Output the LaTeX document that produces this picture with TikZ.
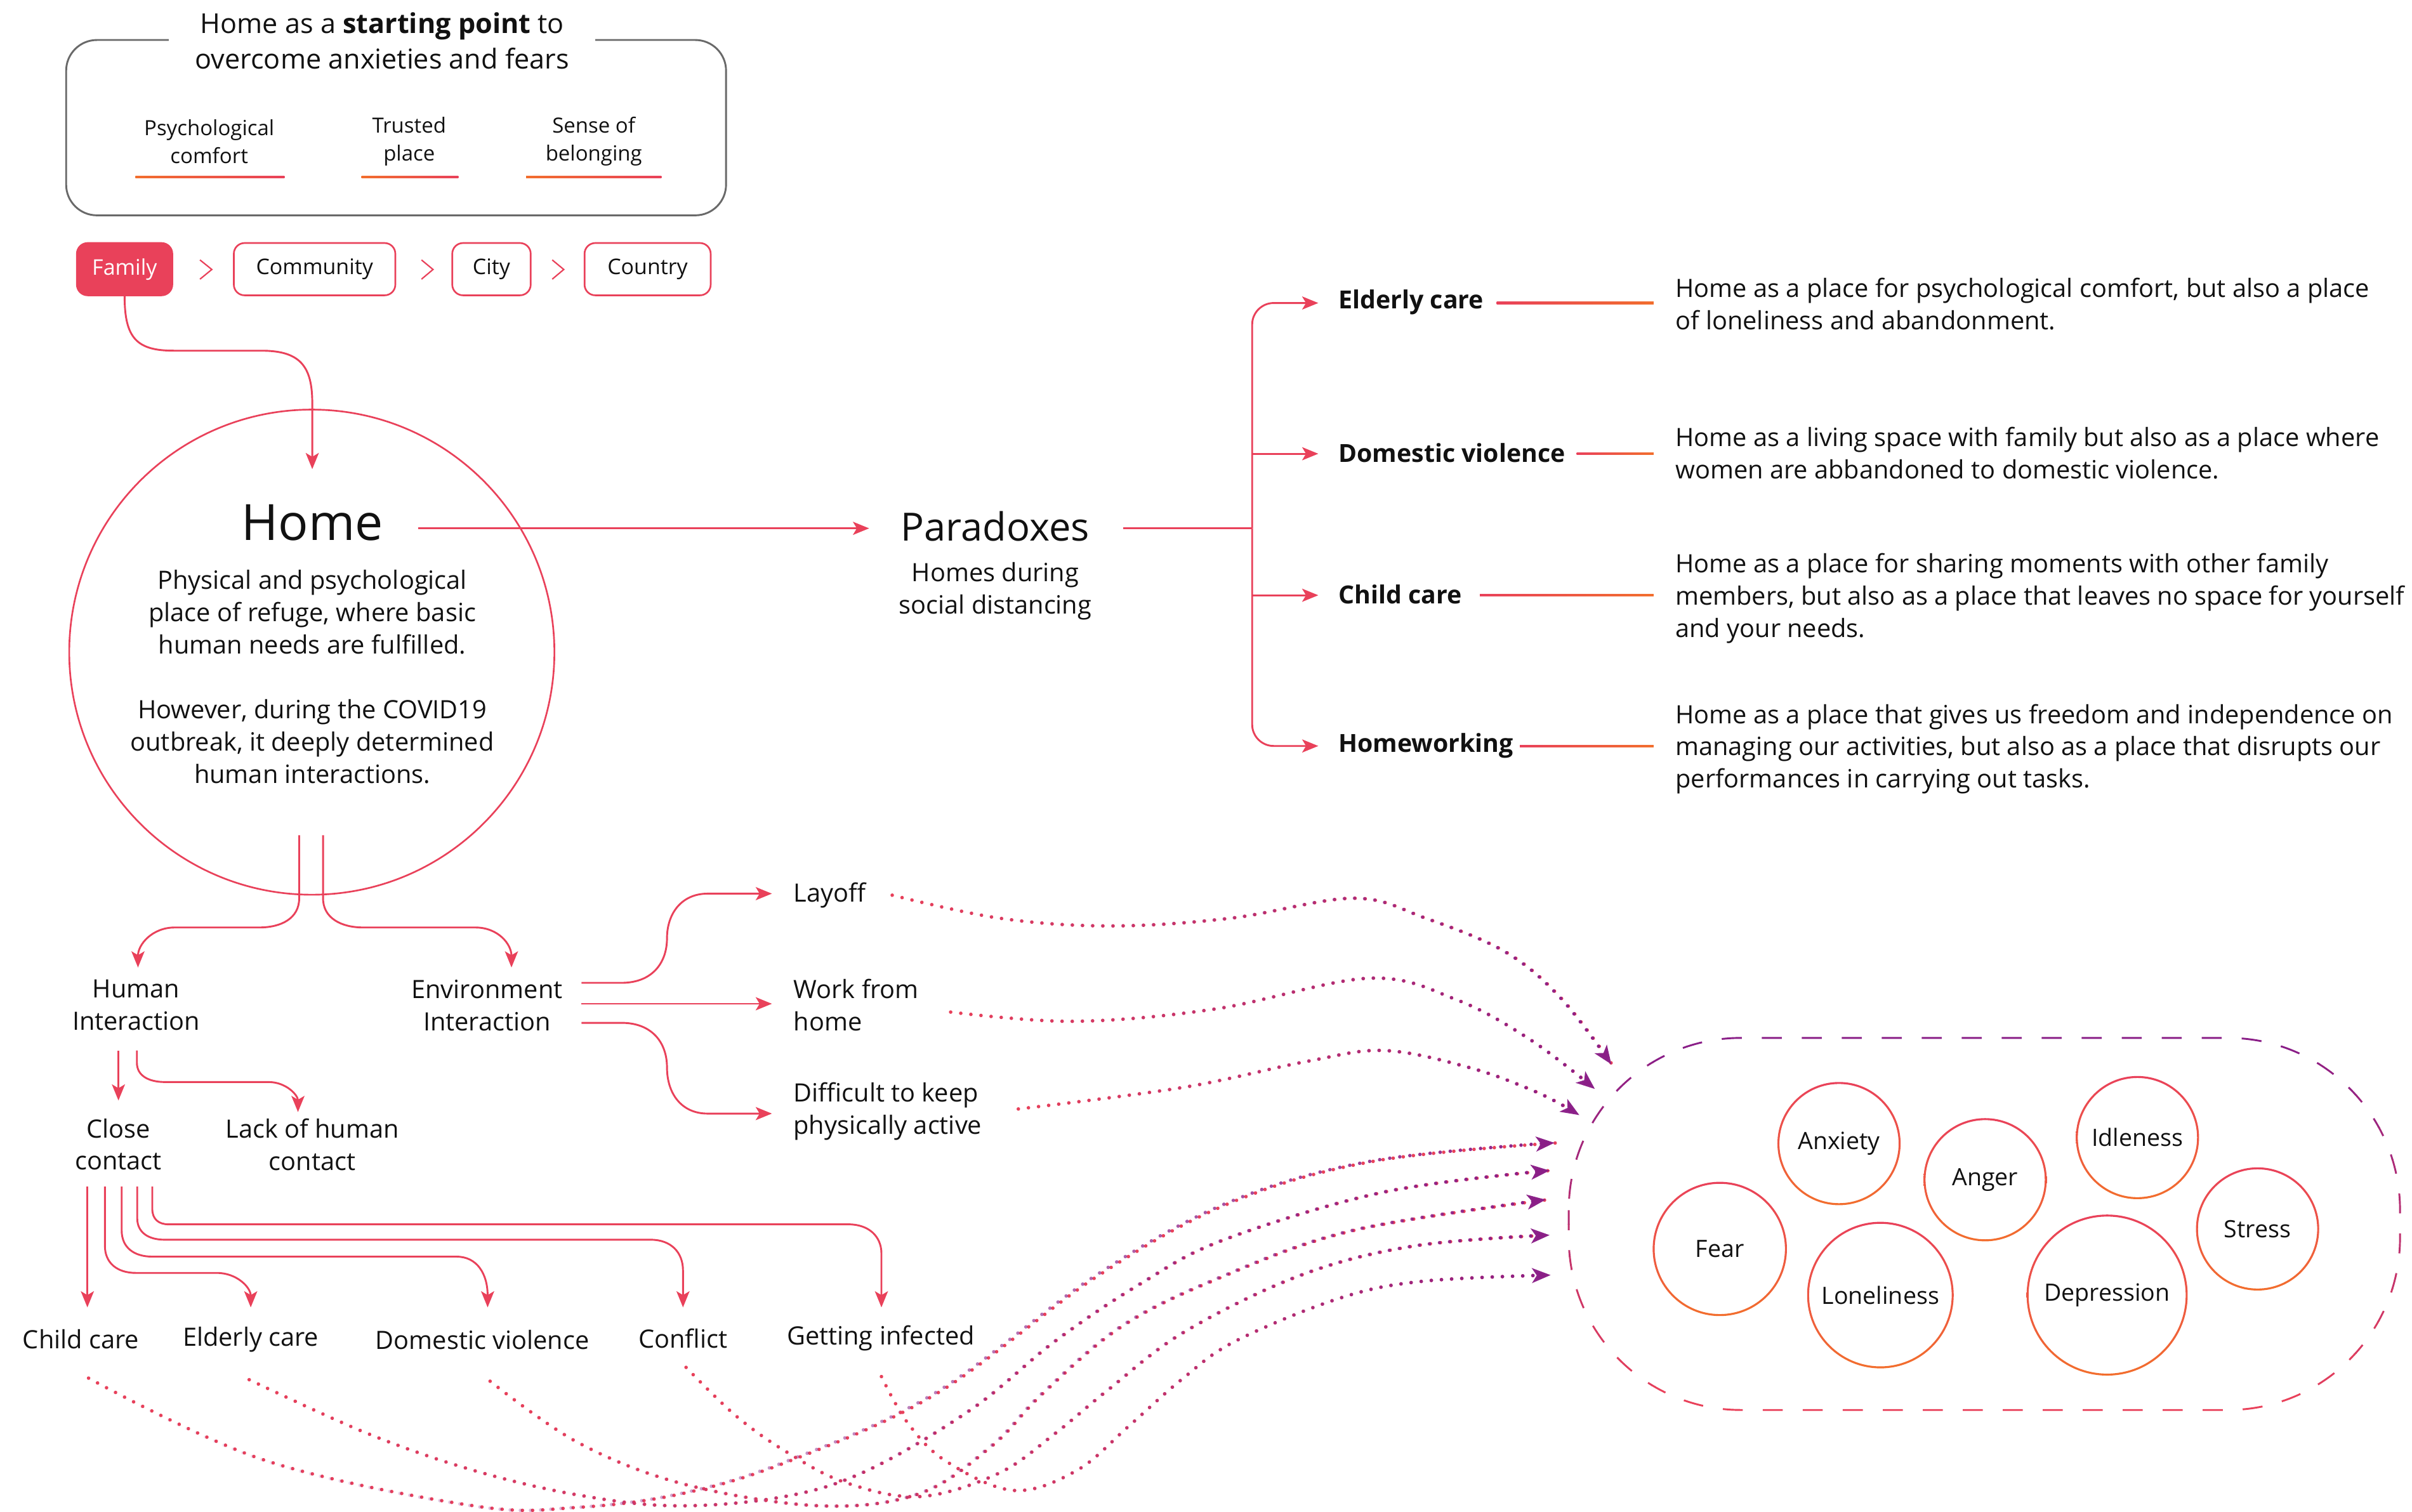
\documentclass[tikz,border=0pt]{standalone}
\usepackage{fontspec}
\setmainfont{Open Sans}
\usetikzlibrary{arrows.meta,fadings}

\definecolor{accent}{RGB}{233,65,90}
\definecolor{warm}{RGB}{242,110,45}
\definecolor{plum}{RGB}{138,30,135}
\definecolor{ink}{RGB}{17,17,17}
\definecolor{frame}{RGB}{105,105,105}

\tikzset{
  body/.style={font=\fontsize{16.4}{21}\selectfont},
  note/.style={font=\fontsize{13.6}{18}\selectfont},
  paradox/.style={font=\fontsize{16.2}{21}\selectfont\bfseries, anchor=west},
  desc/.style={body, anchor=west, align=left},
  stage/.style={draw=accent, line width=1.1pt, rounded corners=7pt, minimum height=34pt, font=\fontsize{14}{18}\selectfont},
  link/.style={draw=accent, line width=1.2pt},
  arr/.style={link, -{Stealth[length=10.5pt,width=8.5pt,inset=2.5pt]}},
  chev/.style={draw=accent, line width=0.9pt},
  emo/.style={circle, font=\fontsize{15.5}{20}\selectfont},
  dots/.style={line width=2.3pt, line cap=round, dash pattern=on 0.01pt off 6.6pt},
  flowbase/.style={dots, draw=accent},
  flowtop/.style={dots, draw=plum, path fading=west, -{Stealth[length=12pt,width=9.5pt,inset=3pt]}},
}
% a dotted flow: red dots blending into purple, ending in a purple arrow
\newcommand{\emoflow}[1]{\draw[flowbase] #1; \draw[flowtop] #1;}

\begin{document}
\begin{tikzpicture}[x=1pt, y=-1pt, every node/.style={text=ink, inner sep=0pt, align=center}]
\useasboundingbox (0,0) rectangle (1568,983);

% ---------- values box ----------
\node[draw=frame, line width=1.2pt, rounded corners=20pt, minimum width=429pt, minimum height=114pt] (values) at (257.5,83) {};
\node[fill=white, inner xsep=17pt, inner ysep=3pt, font=\fontsize{17.8}{23}\selectfont] (motto) at (248.5,26.5)
  {Home as a \textbf{starting point} to\\overcome anxieties and fears};
\node[note] (comfort) at (136,92) {Psychological\\comfort};
\node[note] (trusted) at (266,92) {Trusted\\place};
\node[note] (belong) at (386,92) {Sense of\\belonging};
\shade[left color=warm, right color=accent] (88,114.3) rectangle (185,115.7);
\shade[left color=warm, right color=accent] (235,114.3) rectangle (298,115.7);
\shade[left color=warm, right color=accent] (342,114.3) rectangle (430,115.7);

% ---------- scale of belonging ----------
\node[stage, fill=accent, text=white, minimum width=62pt] (family) at (81,175) {Family};
\node[stage, minimum width=105pt] (community) at (204.5,175) {Community};
\node[stage, minimum width=51pt] (city) at (319.5,175) {City};
\node[stage, minimum width=82pt] (country) at (421,175) {Country};
\draw[chev] (130,169) -- (137.7,175.2) -- (130,181.5);
\draw[chev] (274,169) -- (281.5,175.2) -- (274,181.5);
\draw[chev] (359,169) -- (366.5,175.2) -- (359,181.5);

% ---------- home ----------
\node[circle, draw=accent, line width=1.1pt, minimum size=315.4pt] (home) at (202.7,424) {};
\node[font=\fontsize{32.5}{36}\selectfont] (hometitle) at (203,340) {Home};
\node[body] (homedesc) at (203,440) {Physical and psychological\\place of refuge, where basic\\human needs are fulfilled.\\[21pt]However, during the COVID19\\outbreak, it deeply determined\\human interactions.};
\coordinate (homein) at (203,305);
\draw[arr] (family.south) .. controls (81,220) and (89,228) .. (113,228) -- (170,228)
  .. controls (195,228) and (203,238) .. (203,262) -- (homein);

% ---------- paradoxes ----------
\node[font=\fontsize{25.3}{30}\selectfont] (paradoxes) at (647,342) {Paradoxes};
\node[body] (parasub) at (647,384.5) {Homes during\\social distancing};
\coordinate (homeout) at (272,343.5);
\coordinate (parain) at (565,343.5);
\draw[arr] (homeout) -- (parain);
\coordinate (paraout) at (730,343.5);
\coordinate (trunk) at (814,343.5);
\draw[link] (paraout) -- (trunk);
\coordinate (b1) at (857,197);
\coordinate (b2) at (857,295);
\coordinate (b3) at (857,387);
\coordinate (b4) at (857,485);
\draw[arr, rounded corners=14pt] (trunk) |- (b1);
\draw[arr, rounded corners=14pt] (trunk) |- (b4);
\draw[arr] (trunk |- b2) -- (b2);
\draw[arr] (trunk |- b3) -- (b3);

\node[paradox] (pElder) at (870,196.5) {Elderly care};
\node[paradox] (pViol) at (870,294.5) {Domestic violence};
\node[paradox] (pChild) at (870,386.5) {Child care};
\node[paradox] (pWork) at (870,485) {Homeworking};
\shade[left color=accent, right color=warm] (973,196.35) rectangle (1075,197.65);
\shade[left color=accent, right color=warm] (1025,294.35) rectangle (1075,295.65);
\shade[left color=accent, right color=warm] (962,386.35) rectangle (1075,387.65);
\shade[left color=accent, right color=warm] (988,484.35) rectangle (1075,485.65);

\node[desc] (dElder) at (1089,197.5) {Home as a place for psychological comfort, but also a place\\of loneliness and abandonment.};
\node[desc] (dViol) at (1089,294.5) {Home as a living space with family but also as a place where\\women are abbandoned to domestic violence.};
\node[desc] (dChild) at (1089,389) {Home as a place for sharing moments with other family\\members, but also as a place that leaves no space for yourself\\and your needs.};
\node[desc] (dWork) at (1089,487) {Home as a place that gives us freedom and independence on\\managing our activities, but also as a place that disrupts our\\performances in carrying out tasks.};

% ---------- interactions ----------
\coordinate (homeL) at (194.5,543);
\coordinate (homeR) at (210,543);
\node[body] (human) at (88.5,653.5) {Human\\Interaction};
\node[body] (envir) at (316.6,653.5) {Environment\\Interaction};
\coordinate (humanin) at (89.7,629);
\coordinate (envirin) at (332.5,629);
\draw[arr] (homeL) -- (194.5,584) .. controls (194.5,597) and (183,603) .. (168.5,603) -- (113.6,603)
  .. controls (99,603) and (89.7,614) .. (humanin);
\draw[arr] (homeR) -- (210,584) .. controls (210,597) and (222,603) .. (236,603) -- (309,603)
  .. controls (324,603) and (332.5,614) .. (envirin);

\node[body] (close) at (77,744) {Close\\contact};
\node[body] (lack) at (203,744) {Lack of human\\contact};
\draw[arr] (77,683) -- (77,715.5);
\draw[arr] (89,683) -- (89,691) .. controls (89,699) and (96,703.5) .. (107.5,703.5) -- (174.7,703.5)
  .. controls (186,703.5) and (193.7,712) .. (193.7,723);

\node[body, anchor=west] (layoff) at (515.7,582) {Layoff};
\node[body, anchor=west, align=left] (wfh) at (515.7,653.5) {Work from\\home};
\node[body, anchor=west, align=left] (active) at (515.7,722.5) {Difficult to keep\\physically active};
\draw[arr] (378,639) -- (404,639) .. controls (424,639) and (433.6,626) .. (433.6,610)
  .. controls (433.6,594) and (443,581) .. (460,581) -- (501.8,581);
\draw[arr] (378,652.6) -- (501.8,652.6);
\draw[arr] (378,665) -- (404,665) .. controls (424,665) and (433.6,678) .. (433.6,694)
  .. controls (433.6,711) and (443,724) .. (460,724) -- (501.8,724);

% ---------- close-contact consequences ----------
\node[body] (cChild) at (52.6,870.5) {Child care};
\node[body] (cElder) at (163,871) {Elderly care};
\node[body] (cViol) at (313.6,871) {Domestic violence};
\node[body] (cConf) at (444,870) {Conflict};
\node[body] (cInf) at (572.6,870) {Getting infected};
\draw[arr] (56.8,771.5) -- (56.8,850);
\draw[arr] (68.2,771.5) -- (68.2,810) .. controls (68.2,821) and (76,827.6) .. (88.4,827.6) -- (141,827.6)
  .. controls (154,827.6) and (163,837) .. (163,850);
\draw[arr] (79.1,771.5) -- (79.1,800) .. controls (79.1,811) and (87,817) .. (99,817) -- (296.8,817)
  .. controls (310,817) and (317,828) .. (317,850);
\draw[arr] (89.2,771.5) -- (89.2,792) .. controls (89.2,801) and (96,806) .. (107,806) -- (423,806)
  .. controls (436,806) and (444,814) .. (444,826) -- (444,850);
\draw[arr] (99,771.5) -- (99,786) .. controls (99,792.5) and (103,796) .. (109.5,796) -- (551.5,796)
  .. controls (565,796) and (573,804) .. (573,815) -- (573,850);

% ---------- emotions ----------
\node[minimum width=540pt, minimum height=241.5pt] (emotions) at (1290,795.75) {};
\foreach \i in {0,...,11} {
  \pgfmathsetmacro\bandpc{100*\i/11}
  \begin{scope}
    \clip (1000,{670+\i*21}) rectangle (1580,{670+(\i+1)*21});
    \draw[draw=accent!\bandpc!plum, line width=1.2pt, dash pattern=on 13pt off 13pt, rounded corners=112pt]
      (emotions.north west) rectangle (emotions.south east);
  \end{scope}
}
\foreach \nm/\x/\y/\r/\t in {fear/1118/812/43/Fear, anxiety/1195.5/743.5/39.4/Anxiety,
    anger/1290.5/767/39.4/Anger, idle/1389.5/739.6/39.4/Idleness, stress/1467.6/799/39.4/Stress,
    lonely/1222.4/842/47/Loneliness, depress/1369.8/842/51.7/Depression} {
  \node[emo] (\nm) at (\x,\y) {\t};
  \shade[top color=accent, bottom color=warm, even odd rule]
    (\nm.center) circle[radius={\r*1pt+0.65pt}] (\nm.center) circle[radius={\r*1pt-0.65pt}];
}

% ---------- dotted flows into the emotions ----------
\coordinate (eLay) at (1048,692);
\coordinate (eWfh) at (1037,708);
\coordinate (eAct) at (1027,725);
\coordinate (e1) at (1013,743);
\coordinate (e2) at (1008,761);
\coordinate (e3) at (1006,780);
\coordinate (e4) at (1008,803);
\coordinate (e5) at (1008,829);
\emoflow{plot[smooth, tension=0.6] coordinates {(580,582) (650,597) (722,602) (800,597) (880,584) (927,597) (979,619) (1015,649) (eLay)}}
\emoflow{plot[smooth, tension=0.6] coordinates {(618,658) (698,664) (790,656) (890,636) (947,650) (995,676) (eWfh)}}
\emoflow{plot[smooth, tension=0.6] coordinates {(662,721) (769,707) (850,690) (900,683) (955,694) (999,710) (eAct)}}
\emoflow{plot[smooth, tension=0.6] coordinates {(57.6,896) (171,949) (308,979) (376,980) (444,971) (513,950) (609,906) (713,830) (800,782) (893,755) (e1)}}
\emoflow{plot[smooth, tension=0.6] coordinates {(162,897) (239,932) (308,956) (376,972) (440,979) (510,973) (564,956) (632,916) (686,872) (741,835) (796,806) (900,775) (e2)}}
\emoflow{plot[smooth, tension=0.6] coordinates {(318.6,898) (376,938) (445,965) (533,979) (598,971) (645,940) (678,906) (730,862) (795,830) (880,800) (e3)}}
\emoflow{plot[smooth, tension=0.6] coordinates {(446,889) (479,921) (513,945) (550,964) (598,973) (649,958) (686,932) (720,904) (770,866) (846,829) (920,810) (e4)}}
\emoflow{plot[smooth, tension=0.6] coordinates {(573,895) (590,925) (615,950) (659,969) (700,956) (734,927) (768,897) (803,872) (871,844) (925,833) (e5)}}

\end{tikzpicture}
\end{document}
